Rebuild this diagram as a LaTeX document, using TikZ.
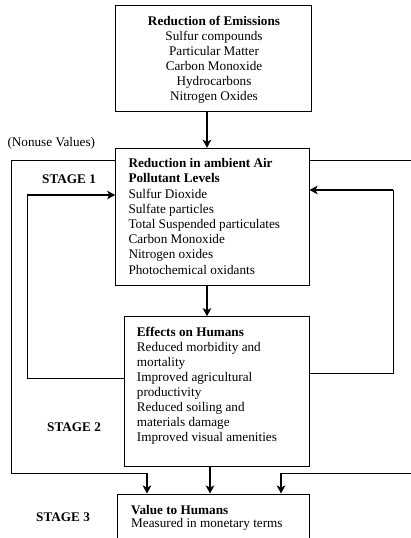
\documentclass[tikz,border=0pt]{standalone}
\usepackage{fontspec}
\setmainfont{Liberation Serif}
\usetikzlibrary{arrows.meta}
\begin{document}
\begin{tikzpicture}[x=1pt,y=-1pt,
  box/.style={draw, line width=1pt, inner sep=0pt},
  txt/.style={inner sep=0pt, font=\fontsize{13.2}{15.2}\selectfont},
  conn/.style={line width=0.9pt},
  arr/.style={line width=1.8pt, -{Stealth[length=8pt,width=8.5pt,inset=2pt]}},
]
\useasboundingbox (0,0) rectangle (411,538);
\clip (0,0) rectangle (411,538);

% boxes
\node[box, minimum width=196pt, minimum height=106pt] (box1) at (213.7,58.7) {};
\node[box, minimum width=193.3pt, minimum height=136.7pt] (box2) at (212.35,216.65) {};
\node[box, minimum width=185pt, minimum height=149.3pt] (box3) at (216.5,391.35) {};
\node[box, minimum width=192pt, minimum height=66pt] (box4) at (213,527) {};

% box texts
\node[txt, anchor=base] (t1) at (214,25) {\parbox[t]{190pt}{\centering\baselineskip=15pt
\textbf{Reduction of Emissions}\\ Sulfur compounds\\ Particular Matter\\ Carbon Monoxide\\ Hydrocarbons\\ Nitrogen Oxides}};
\node[txt, anchor=base west] (t2) at (128.3,167.7) {\parbox[t]{178pt}{\raggedright
\textbf{Reduction in ambient Air}\\ \textbf{Pollutant Levels}\\ Sulfur Dioxide\\ Sulfate particles\\ Total Suspended particulates\\ Carbon Monoxide\\ Nitrogen oxides\\ Photochemical oxidants}};
\node[txt, anchor=base west] (t3) at (136.7,336) {\parbox[t]{170pt}{\raggedright\baselineskip=15.1pt
\textbf{Effects on Humans}\\ Reduced morbidity and\\ mortality\\ Improved agricultural\\ productivity\\ Reduced soiling and\\ materials damage\\ Improved visual amenities}};
\node[txt, anchor=base west] (t4) at (131,514) {\parbox[t]{175pt}{\raggedright\baselineskip=13.8pt
\textbf{Value to Humans}\\ Measured in monetary terms}};

% side labels
\node[txt, anchor=base west] (nonuse) at (7.3,146) {(Nonuse Values)};
\node[txt, anchor=base west] (s1) at (42,183.5) {\textbf{STAGE 1}};
\node[txt, anchor=base west] (s2) at (47,431) {\textbf{STAGE 2}};
\node[txt, anchor=base west] (s3) at (36,521.5) {\textbf{STAGE 3}};

% main arrows
\coordinate (a1) at (207,0);
\coordinate (a3) at (210,0);
\draw[arr] (box1.south -| a1) -- (box2.north -| a1);
\draw[arr] (box2.south -| a1) -- (box3.north -| a1);
\draw[arr] (box3.south -| a3) -- (box4.north -| a3);

% feedback loops
\coordinate (L1) at (27,378);
\coordinate (L2) at (27,195);
\draw[conn] (box3.west |- L1) -- (L1) -- (L2);
\draw[arr] (L2) -- (box2.west |- L2);
\coordinate (R1) at (393,373);
\coordinate (R2) at (393,190);
\draw[conn] (box3.east |- R1) -- (R1) -- (R2);
\draw[arr] (R2) -- (box2.east |- R2);

% outer frame
\coordinate (O1) at (11,160);
\coordinate (O2) at (11,473);
\coordinate (O3) at (147,473);
\coordinate (O4) at (412,160);
\coordinate (O5) at (412,473);
\coordinate (O6) at (281,473);
\draw[conn] (box2.west |- O1) -- (O1) -- (O2) -- (O3);
\draw[arr] (O3) -- (O3 |- box4.north);
\draw[conn] (box2.east |- O4) -- (O4);
\draw[conn] (O5) -- (O6);
\draw[arr] (O6) -- (O6 |- box4.north);
\end{tikzpicture}
\end{document}
